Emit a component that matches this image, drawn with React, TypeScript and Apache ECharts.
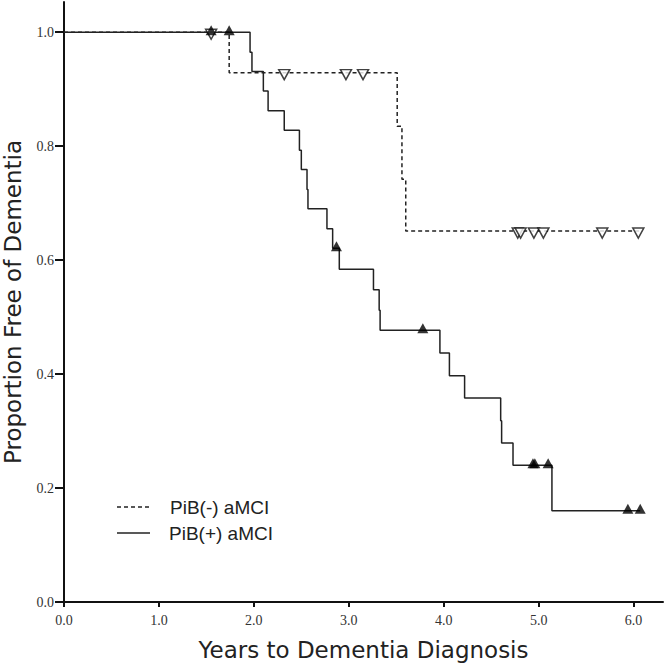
import React, { useEffect, useRef } from "react";
import * as echarts from "echarts";

// PiB(+) aMCI: Kaplan-Meier steps (time in years, proportion free of dementia)
const posTimes = [0, 1.96, 1.98, 2.10, 2.15, 2.32, 2.48, 2.50, 2.56, 2.57, 2.77, 2.83, 2.90, 3.26, 3.32, 3.33, 3.96, 4.06, 4.22, 4.60, 4.61, 4.73, 5.14, 6.07];
const posSurv = [1.0, 0.965, 0.931, 0.897, 0.862, 0.828, 0.793, 0.759, 0.724, 0.690, 0.655, 0.621, 0.584, 0.548, 0.512, 0.477, 0.437, 0.397, 0.358, 0.318, 0.279, 0.240, 0.160, 0.160];
// PiB(+) censored
const posCensorTimes = [1.55, 1.74, 2.87, 3.78, 4.94, 4.96, 5.10, 5.94, 6.07];
const posCensorSurv = [1.0, 1.0, 0.621, 0.477, 0.240, 0.240, 0.240, 0.160, 0.160];

// PiB(-) aMCI
const negTimes = [0, 1.74, 3.51, 3.56, 3.60, 6.09];
const negSurv = [1.0, 0.929, 0.835, 0.742, 0.651, 0.651];
const negCensorTimes = [1.55, 2.32, 2.97, 3.15, 4.78, 4.81, 4.95, 5.05, 5.67, 6.05];
const negCensorSurv = [1.0, 0.929, 0.929, 0.929, 0.651, 0.651, 0.651, 0.651, 0.651, 0.651];

const xTicks = [0, 1, 2, 3, 4, 5, 6];
const yTicks = [0, 0.2, 0.4, 0.6, 0.8, 1.0];
const legendLabels = ["PiB(-) aMCI", "PiB(+) aMCI"];
const xTitle = "Years to Dementia Diagnosis";
const yTitle = "Proportion Free of Dementia";

const zip = (a: number[], b: number[]) => a.map((v, i) => [v, b[i]]);

export default function App() {
  const ref = useRef<HTMLDivElement>(null);
  useEffect(() => {
    if (!ref.current) return;
    const chart = echarts.init(ref.current, null, { renderer: "svg" });
    const labelStyle = {
      fontFamily: "Liberation Serif",
      fontSize: 14,
      color: "#333",
      formatter: (v: number) => v.toFixed(1),
    };
    chart.setOption({
      animation: false,
      backgroundColor: "#fff",
      grid: { left: 64, right: 3, top: 2, bottom: 65, containLabel: false, outerBoundsMode: "none" },
      xAxis: {
        type: "value",
        min: 0,
        max: 6.31,
        splitLine: { show: false },
        axisLine: { show: true, onZero: false, lineStyle: { color: "#111", width: 2 } },
        axisTick: { show: true, length: 5, lineStyle: { color: "#111", width: 2 }, customValues: xTicks },
        axisLabel: { ...labelStyle, margin: 11, customValues: xTicks },
        name: xTitle,
        nameLocation: "middle",
        nameGap: 36,
        nameTextStyle: { fontFamily: "DejaVu Sans", fontSize: 23, color: "#222" },
      },
      yAxis: {
        type: "value",
        min: 0,
        max: 1.053,
        splitLine: { show: false },
        axisLine: { show: true, onZero: false, lineStyle: { color: "#111", width: 2 } },
        axisTick: { show: true, length: 9, lineStyle: { color: "#111", width: 2 }, customValues: yTicks },
        axisLabel: { ...labelStyle, margin: 10, customValues: yTicks },
        name: yTitle,
        nameLocation: "middle",
        nameGap: 40,
        nameTextStyle: { fontFamily: "DejaVu Sans", fontSize: 23, color: "#222" },
      },
      series: [
        {
          type: "line",
          step: "end",
          data: zip(negTimes, negSurv),
          symbol: "none",
          lineStyle: { color: "#222", width: 1.5, type: [4, 3] },
          z: 2,
        },
        {
          type: "line",
          step: "end",
          data: zip(posTimes, posSurv),
          symbol: "none",
          lineStyle: { color: "#222", width: 1.5 },
          z: 3,
        },
        {
          type: "scatter",
          data: zip(negCensorTimes, negCensorSurv),
          symbol: "triangle",
          symbolRotate: 180,
          symbolSize: [11, 10],
          symbolOffset: [0, 2],
          itemStyle: { color: "#fff", borderColor: "#111", borderWidth: 1.5 },
          z: 4,
        },
        {
          type: "scatter",
          data: zip(posCensorTimes, posCensorSurv),
          symbol: "triangle",
          symbolSize: [11, 10],
          symbolOffset: [0, -2],
          itemStyle: { color: "#000" },
          z: 5,
        },
      ],
      graphic: [
        {
          type: "line",
          shape: { x1: 117, y1: 507, x2: 150, y2: 507 },
          style: { stroke: "#222", lineWidth: 1.5, lineDash: [4, 3] },
        },
        {
          type: "text",
          x: 170,
          y: 507,
          style: { text: legendLabels[0], fontFamily: "Liberation Sans", fontSize: 19, fill: "#222", verticalAlign: "middle" },
        },
        {
          type: "line",
          shape: { x1: 117, y1: 533, x2: 150, y2: 533 },
          style: { stroke: "#222", lineWidth: 1.5 },
        },
        {
          type: "text",
          x: 169,
          y: 533,
          style: { text: legendLabels[1], fontFamily: "Liberation Sans", fontSize: 19, fill: "#222", verticalAlign: "middle" },
        },
      ],
    });
    return () => chart.dispose();
  }, []);
  return <div ref={ref} style={{ width: 666, height: 667, position: "absolute", left: 0, top: 0 }} />;
}
